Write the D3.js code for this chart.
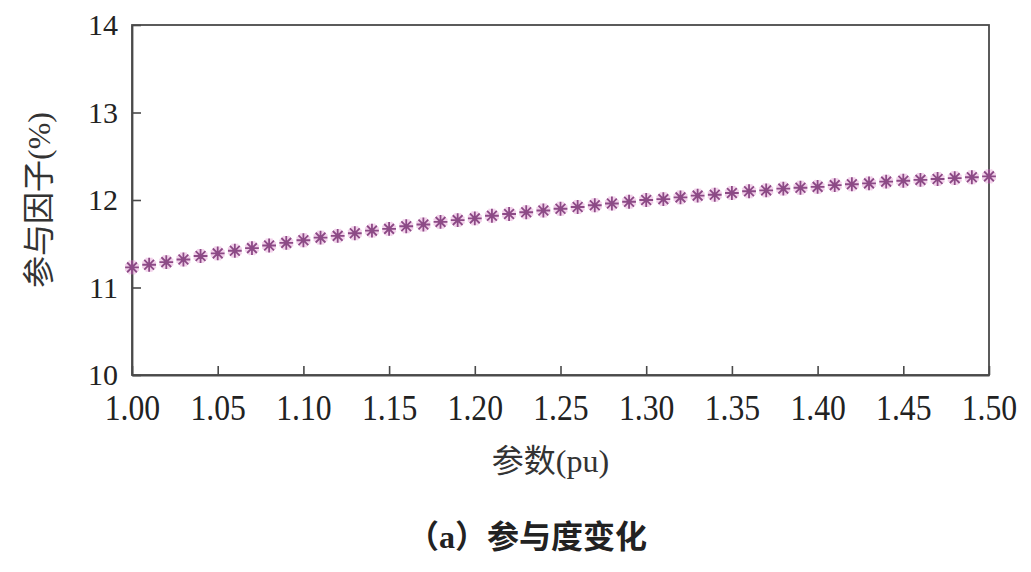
<!DOCTYPE html>
<html>
<head>
<meta charset="utf-8">
<script src="https://cdn.jsdelivr.net/npm/d3@7"></script>
<style>
  body { margin: 0; background: #fff; }
  svg { display: block; }
</style>
</head>
<body>
<div class="chart"></div>
<script>
const width = 1031
const height = 572

// parameter (pu) and participation factor (%)
const params = [
  1.00, 1.01, 1.02, 1.03, 1.04, 1.05, 1.06, 1.07, 1.08, 1.09,
  1.10, 1.11, 1.12, 1.13, 1.14, 1.15, 1.16, 1.17, 1.18, 1.19,
  1.20, 1.21, 1.22, 1.23, 1.24, 1.25, 1.26, 1.27, 1.28, 1.29,
  1.30, 1.31, 1.32, 1.33, 1.34, 1.35, 1.36, 1.37, 1.38, 1.39,
  1.40, 1.41, 1.42, 1.43, 1.44, 1.45, 1.46, 1.47, 1.48, 1.49,
  1.50
]
const factors = [
  11.23, 11.26, 11.29, 11.32, 11.36, 11.39, 11.42, 11.45, 11.48, 11.51,
  11.54, 11.57, 11.59, 11.62, 11.65, 11.67, 11.70, 11.72, 11.75, 11.77,
  11.79, 11.82, 11.84, 11.86, 11.88, 11.90, 11.92, 11.94, 11.96, 11.98,
  12.00, 12.01, 12.03, 12.05, 12.06, 12.08, 12.10, 12.11, 12.13, 12.14,
  12.15, 12.17, 12.18, 12.19, 12.21, 12.22, 12.23, 12.24, 12.25, 12.26,
  12.27
]
const xTicks = [1.00, 1.05, 1.10, 1.15, 1.20, 1.25, 1.30, 1.35, 1.40, 1.45, 1.50]
const yTicks = [10, 11, 12, 13, 14]

const margin = {top: 25, right: 42, bottom: 197, left: 132}
const plotW = width - margin.left - margin.right
const plotH = height - margin.top - margin.bottom

const x = d3.scaleLinear().domain([1.0, 1.5]).range([0, plotW])
const y = d3.scaleLinear().domain([10, 14]).range([plotH, 0])

const svg = d3.select(".chart")
  .append("svg")
  .attr("width", width)
  .attr("height", height)

const g = svg.append("g")
  .attr("transform", `translate(${margin.left},${margin.top})`)

const axisColor = "#4a4a4a"
const serif = "'Liberation Serif', 'Times New Roman', serif"
const cjk = "'Liberation Serif', 'Noto Sans CJK SC', sans-serif"

// frame
g.append("rect")
  .attr("width", plotW)
  .attr("height", plotH)
  .attr("fill", "none")
  .attr("stroke", axisColor)
  .attr("stroke-width", 1.8)

const xAxis = g.append("g")
  .attr("transform", `translate(0,${plotH})`)
  .call(d3.axisBottom(x).tickValues(xTicks).tickFormat(d3.format(".2f")).tickSizeInner(-9).tickSizeOuter(0))

xAxis.selectAll("text")
  .attr("y", 0)
  .attr("dy", 0)
  .attr("transform", "translate(0,45) scale(0.88,1)")
  .attr("font-family", serif)
  .attr("font-size", 36)
  .attr("fill", "#222")

const yAxis = g.append("g")
  .call(d3.axisLeft(y).tickValues(yTicks).tickFormat(d3.format("d")).tickSizeInner(-9).tickSizeOuter(0))

yAxis.selectAll("text")
  .attr("x", -14)
  .attr("dy", "0.33em")
  .attr("font-family", serif)
  .attr("font-size", 30)
  .attr("fill", "#222")

svg.selectAll(".domain").attr("stroke", axisColor).attr("stroke-width", 1.8)
svg.selectAll(".tick line").attr("stroke", axisColor).attr("stroke-width", 1.6)

// asterisk marker with eight arms
const star = {
  draw(context, size) {
    const r = Math.sqrt(size) / 2
    for (let i = 0; i < 4; i++) {
      const a = i * Math.PI / 4
      context.moveTo(r * Math.cos(a), r * Math.sin(a))
      context.lineTo(-r * Math.cos(a), -r * Math.sin(a))
    }
  }
}
const symbol = d3.symbol().type(star).size(190)

const points = params.map((p, i) => [x(p), y(factors[i])])

g.append("g")
  .selectAll("path")
  .data(points)
  .join("path")
  .attr("transform", d => `translate(${d[0]},${d[1]})`)
  .attr("d", symbol)
  .attr("fill", "none")
  .attr("stroke", "#e8a6d8")
  .attr("stroke-width", 7)
  .attr("stroke-opacity", 0.5)

g.append("g")
  .selectAll("path")
  .data(points)
  .join("path")
  .attr("transform", d => `translate(${d[0]},${d[1]})`)
  .attr("d", symbol)
  .attr("fill", "none")
  .attr("stroke", "#8c4a86")
  .attr("stroke-width", 1.8)

// axis titles
svg.append("text")
  .attr("x", margin.left + plotW / 2 - 10)
  .attr("y", 472)
  .attr("text-anchor", "middle")
  .attr("font-family", cjk)
  .attr("font-size", 32)
  .attr("fill", "#333")
  .text("参数(pu)")

svg.append("text")
  .attr("transform", "translate(50,200) rotate(-90)")
  .attr("text-anchor", "middle")
  .attr("font-family", cjk)
  .attr("font-size", 32)
  .attr("fill", "#333")
  .text("参与因子(%)")

// caption
svg.append("text")
  .attr("x", 527)
  .attr("y", 548)
  .attr("text-anchor", "middle")
  .attr("font-family", cjk)
  .attr("font-weight", "bold")
  .attr("font-size", 32)
  .attr("fill", "#222")
  .text("（a）参与度变化")
</script>
</body>
</html>
